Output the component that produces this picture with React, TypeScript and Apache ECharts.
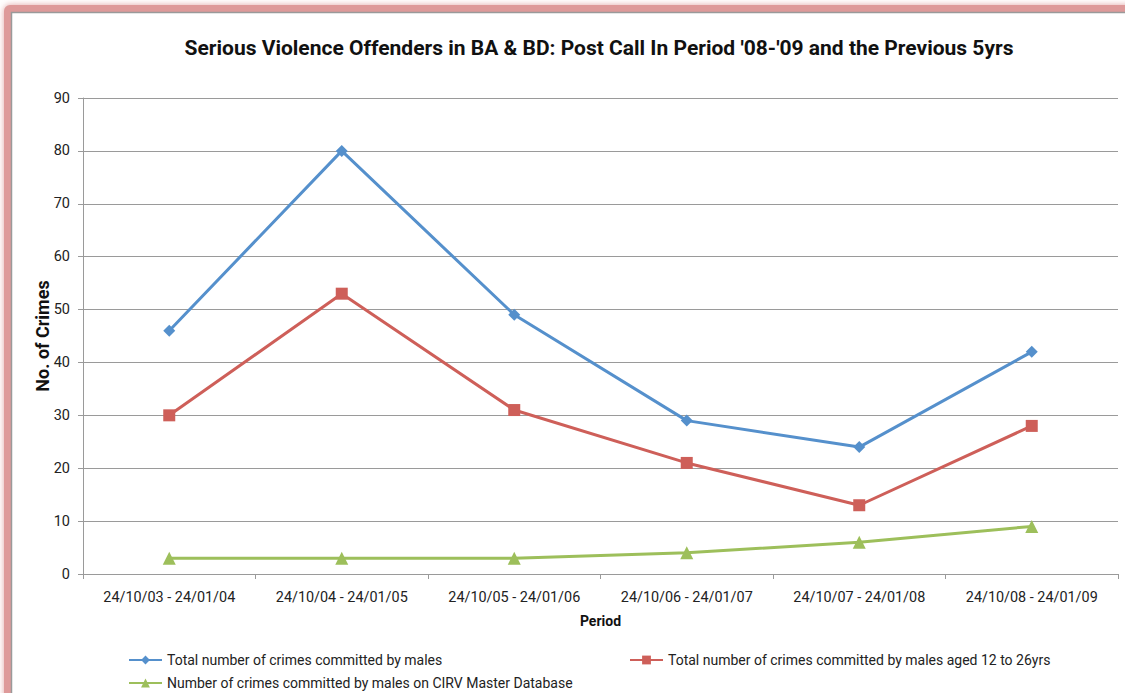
import React, { useEffect, useRef } from "react";
import * as echarts from "echarts";

const categories = [
  "24/10/03 - 24/01/04",
  "24/10/04 - 24/01/05",
  "24/10/05 - 24/01/06",
  "24/10/06 - 24/01/07",
  "24/10/07 - 24/01/08",
  "24/10/08 - 24/01/09",
];
const seriesNames = [
  "Total number of crimes committed by males",
  "Total number of crimes committed by males aged 12 to 26yrs",
  "Number of crimes committed by males on CIRV Master Database",
];
const totalMales = [46, 80, 49, 29, 24, 42];
const males12to26 = [30, 53, 31, 21, 13, 28];
const cirvMales = [3, 3, 3, 4, 6, 9];

const FONT = "Roboto, 'Open Sans', sans-serif";
const BLUE = "#5590CC";
const RED = "#CE5F59";
const GREEN = "#9DBF5B";

export default function App() {
  const ref = useRef<HTMLDivElement>(null);
  useEffect(() => {
    const chart = echarts.init(ref.current!, null, { renderer: "svg" });
    const legendText = { fontFamily: FONT, fontSize: 14, color: "#222" };
    const legendBase = { itemWidth: 33, itemHeight: 11, itemGap: 0, padding: 0 };
    chart.setOption({
      animation: false,
      backgroundColor: "#ffffff",
      graphic: [
        {
          type: "rect",
          z: -20,
          shape: { x: 4, y: 5, width: 1300, height: 900, r: 6 },
          style: {
            fill: "#DE9A9A",
            shadowColor: "rgba(222,154,154,0.9)",
            shadowBlur: 6,
          },
        },
        {
          type: "rect",
          z: -10,
          shape: { x: 11.5, y: 12.5, width: 1200, height: 800 },
          style: { fill: "#ffffff", stroke: "#9a9a9a", lineWidth: 1.5 },
        },
      ],
      title: {
        text: "Serious Violence Offenders in BA & BD: Post Call In Period '08-'09 and the Previous 5yrs",
        left: 594,
        top: 32,
        textAlign: "center",
        textStyle: { fontFamily: FONT, fontSize: 21, fontWeight: "bold", color: "#111" },
      },
      grid: { left: 83, top: 98, width: 1035, height: 476, containLabel: false },
      xAxis: {
        type: "category",
        data: categories,
        boundaryGap: true,
        name: "Period",
        nameLocation: "middle",
        nameGap: 40,
        nameTextStyle: { fontFamily: FONT, fontSize: 14, fontWeight: "bold", color: "#111" },
        axisLine: { lineStyle: { color: "#9a9a9a", width: 1 } },
        axisTick: { show: true, alignWithLabel: false, length: 5, lineStyle: { color: "#9a9a9a" } },
        axisLabel: { fontFamily: FONT, fontSize: 14.4, color: "#222", margin: 16 },
      },
      yAxis: {
        type: "value",
        min: 0,
        max: 90,
        interval: 10,
        name: "No. of Crimes",
        nameLocation: "middle",
        nameGap: 32,
        nameMoveOverlap: false,
        nameRotate: 90,
        nameTextStyle: { fontFamily: FONT, fontSize: 18, fontWeight: "bold", color: "#111" },
        axisLine: { show: true, lineStyle: { color: "#9a9a9a", width: 1 } },
        axisTick: { show: true, length: 5, lineStyle: { color: "#9a9a9a" } },
        axisLabel: { fontFamily: FONT, fontSize: 14.5, color: "#222", margin: 13 },
        splitLine: { lineStyle: { color: "#9a9a9a", width: 1 } },
      },
      legend: [
        { ...legendBase, data: [seriesNames[0]], left: 128, top: 653, textStyle: legendText },
        { ...legendBase, data: [seriesNames[1]], left: 629, top: 653, textStyle: legendText },
        { ...legendBase, data: [seriesNames[2]], left: 128, top: 676, textStyle: legendText },
      ],
      series: [
        {
          name: seriesNames[0],
          type: "line",
          data: totalMales,
          symbol: "diamond",
          symbolSize: 12,
          lineStyle: { color: BLUE, width: 3 },
          itemStyle: { color: BLUE },
        },
        {
          name: seriesNames[1],
          type: "line",
          data: males12to26,
          symbol: "rect",
          symbolSize: 12,
          lineStyle: { color: RED, width: 3 },
          itemStyle: { color: RED },
        },
        {
          name: seriesNames[2],
          type: "line",
          data: cirvMales,
          symbol: "triangle",
          symbolSize: 13,
          lineStyle: { color: GREEN, width: 3 },
          itemStyle: { color: GREEN },
        },
      ],
    });
    return () => chart.dispose();
  }, []);
  return (
    <div
      ref={ref}
      style={{ position: "absolute", left: 0, top: 0, width: 1125, height: 693 }}
    />
  );
}
